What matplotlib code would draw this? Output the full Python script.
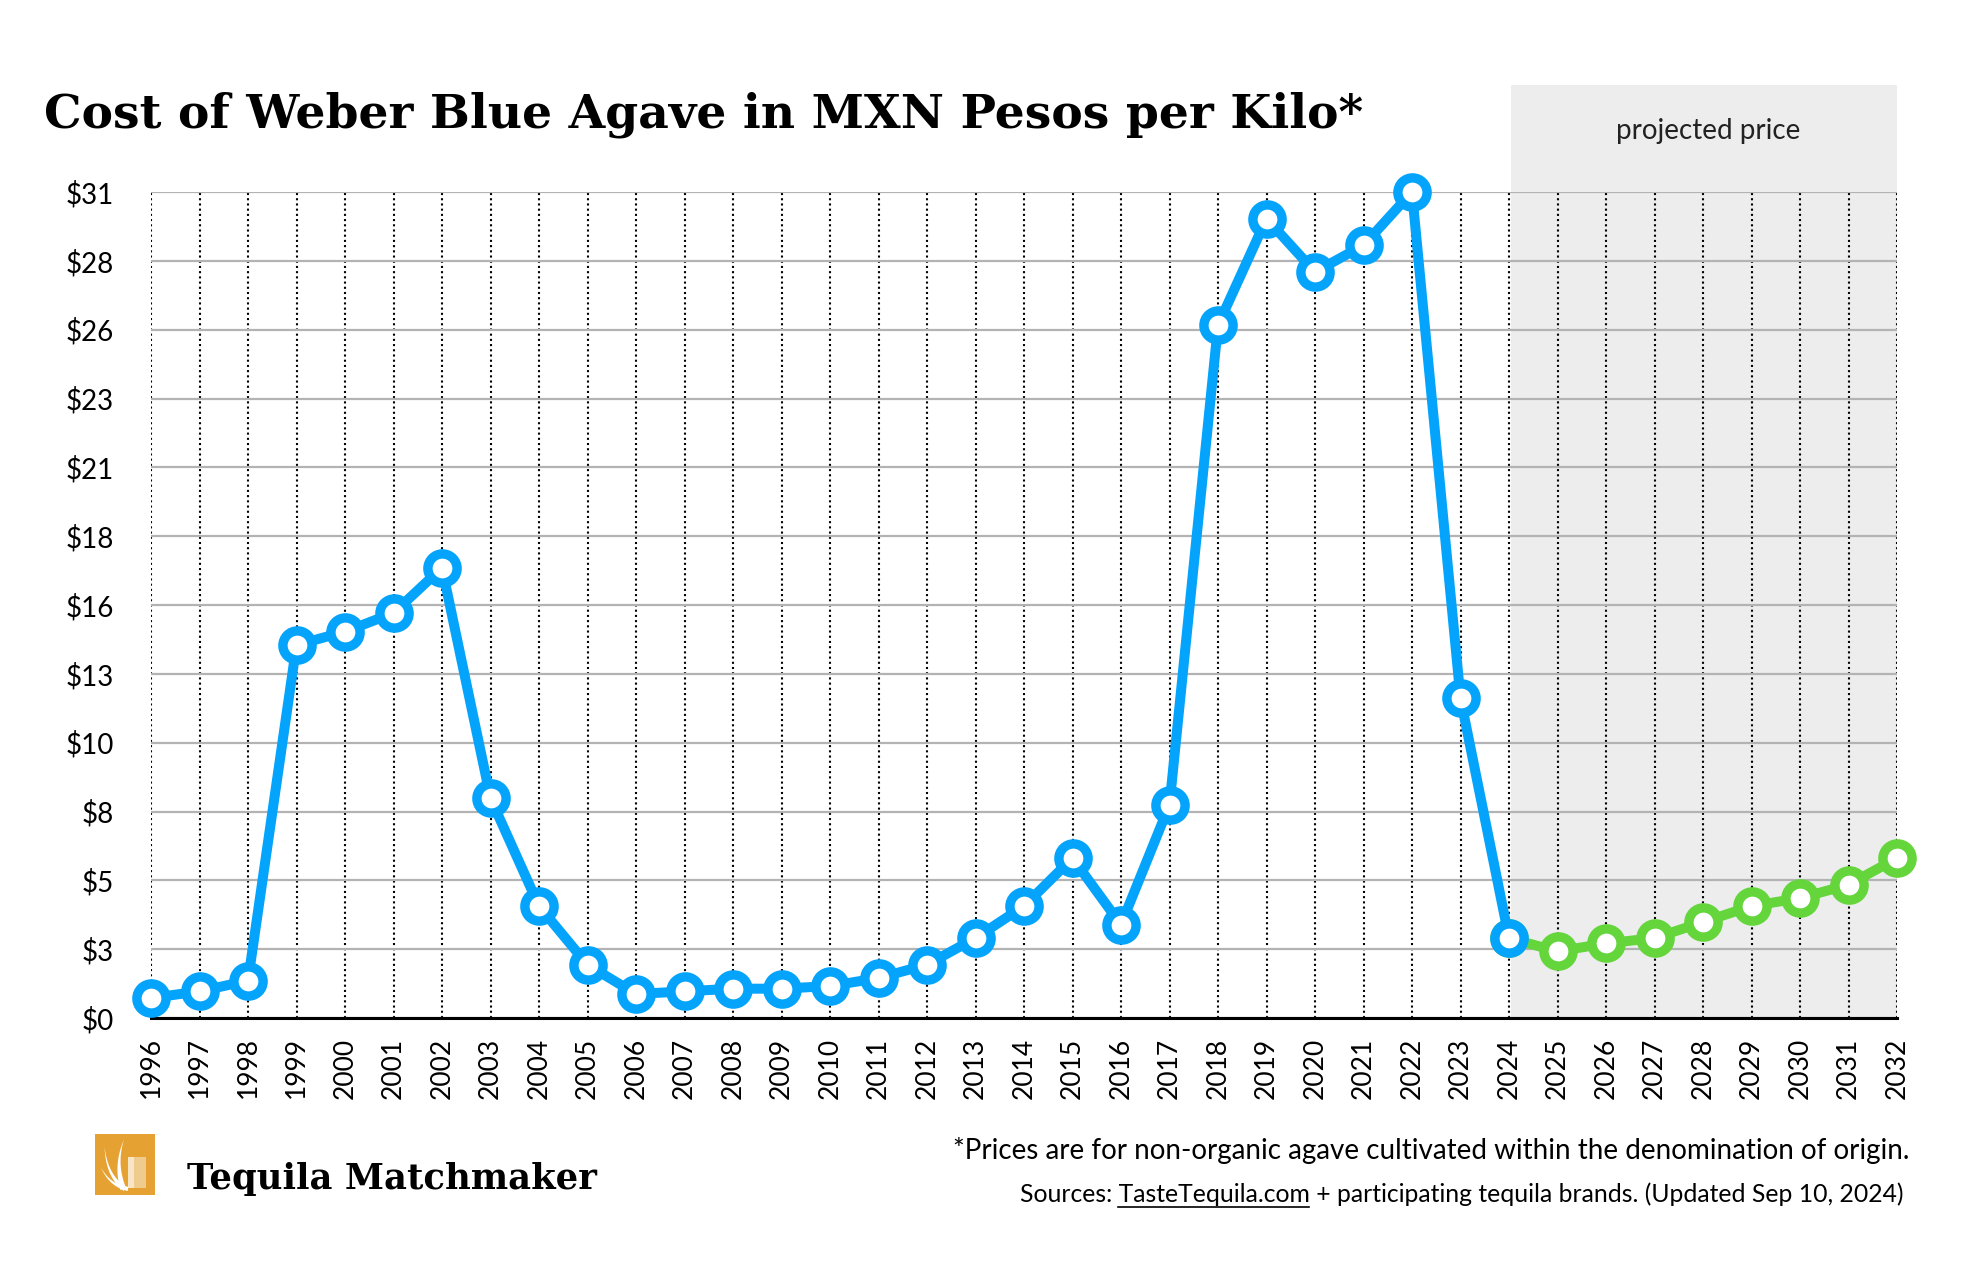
import numpy as np
import matplotlib.pyplot as plt
import matplotlib.transforms as mtransforms
from matplotlib.patches import Rectangle, Polygon

plt.rcParams['font.family'] = ['Lato', 'DejaVu Sans']

# Data
years_hist = list(range(1996, 2025))
price_hist = [0.75, 1.0, 1.4, 14.0, 14.5, 15.2, 16.9, 8.25, 4.2, 2.0,
              0.9, 1.0, 1.1, 1.1, 1.2, 1.5, 2.0, 3.0, 4.2, 6.0,
              3.5, 8.0, 26.0, 30.0, 28.0, 29.0, 31.0, 12.0, 3.0]
years_proj = list(range(2024, 2033))
price_proj = [3.0, 2.5, 2.8, 3.0, 3.6, 4.2, 4.5, 5.0, 6.0]
y_tick_labels = ["$0", "$3", "$5", "$8", "$10", "$13", "$16",
                 "$18", "$21", "$23", "$26", "$28", "$31"]
all_years = list(range(1996, 2033))

BLUE = '#05A4FC'
GREEN = '#64D63C'
W, H = 1978, 1284

fig = plt.figure(figsize=(W / 100, H / 100), dpi=100)
ax = fig.add_axes([151 / W, 1 - 1018 / H, (1897 - 151) / W, (1018 - 192) / H])

# projected region shading (extends above the plot)
trans = mtransforms.blended_transform_factory(ax.transData, ax.transAxes)
ax.add_patch(Rectangle((2024.05, 0), 2032 - 2024.05, 1 + (192 - 85) / 826,
                       transform=trans, facecolor='#EDEDED', edgecolor='none',
                       zorder=0.1, clip_on=False))
ax.text(2028.1, 1 + (192 - 131) / 826, "projected price", transform=trans,
        ha='center', va='center', fontsize=20, color='#222222')

# lines
ax.plot(years_proj, price_proj, color=GREEN, lw=7.2, marker='o', ms=21,
        mfc='white', mec=GREEN, mew=6.8, zorder=3, clip_on=False)
ax.plot(years_hist, price_hist, color=BLUE, lw=7.2, marker='o', ms=21,
        mfc='white', mec=BLUE, mew=6.8, zorder=4, clip_on=False)

ax.set_xlim(1996, 2032)
ax.set_ylim(0, 31)
ax.set_xticks(all_years)
ax.set_xticklabels([str(y) for y in all_years], rotation=90, fontsize=19)
ax.set_yticks(np.linspace(0, 31, len(y_tick_labels)))
ax.set_yticklabels(y_tick_labels, fontsize=20)
ax.tick_params(axis='x', length=0, pad=14)
ax.tick_params(axis='y', length=0, pad=27)

ax.set_axisbelow(True)
ax.grid(axis='x', color='black', lw=1.5, ls=(0, (1, 1.5)))
ax.grid(axis='y', color='#B3B3B3', lw=1.6, ls='-')
for s in ['top', 'left', 'right']:
    ax.spines[s].set_visible(False)
ax.spines['bottom'].set_linewidth(2.2)
ax.spines['bottom'].set_zorder(2)
ax.set_facecolor('none')

# title
fig.text(44 / W, 1 - 127 / H, "Cost of Weber Blue Agave in MXN Pesos per Kilo*",
         fontfamily='DejaVu Serif', fontweight='bold', fontsize=34,
         ha='left', va='baseline')

# footnotes
fig.text(1909 / W, 1 - 1159 / H,
         "*Prices are for non-organic agave cultivated within the denomination of origin.",
         ha='right', va='baseline', fontsize=20)
SRC_SIZE = 17.8
src = "Sources: TasteTequila.com + participating tequila brands. (Updated Sep 10, 2024)"
t_src = fig.text(1903 / W, 1 - 1202 / H, src, ha='right', va='baseline', fontsize=SRC_SIZE)

# underline the link
r = fig.canvas.get_renderer()
bb = t_src.get_window_extent(r)
tmp_a = fig.text(0, 0, "Sources: TasteTequila.com", fontsize=SRC_SIZE)
tmp_b = fig.text(0, 0, "TasteTequila.com", fontsize=SRC_SIZE)
wa = tmp_a.get_window_extent(r).width
wb = tmp_b.get_window_extent(r).width
tmp_a.remove()
tmp_b.remove()
ux1 = bb.x0 + wa
ux0 = ux1 - wb
uy = (1 - 1202 / H) * H - 5
fig.add_artist(plt.Line2D([ux0 / W, ux1 / W], [uy / H, uy / H],
                          transform=fig.transFigure, color='black', lw=1.2))

# logo
lax = fig.add_axes([95 / W, 1 - 1195 / H, 60 / W, 61 / H])
lax.set_xlim(0, 1)
lax.set_ylim(0, 1)
lax.axis('off')
lax.add_patch(Rectangle((0, 0), 1, 1, facecolor='#E5A232', edgecolor='none'))


def blade(p0, p1, p2, w):
    t = np.linspace(0, 1, 30)[:, None]
    p0, p1, p2 = np.array(p0), np.array(p1), np.array(p2)
    pts = (1 - t) ** 2 * p0 + 2 * (1 - t) * t * p1 + t ** 2 * p2
    d = 2 * (1 - t) * (p1 - p0) + 2 * t * (p2 - p1)
    n = np.column_stack([-d[:, 1], d[:, 0]])
    n = n / np.linalg.norm(n, axis=1)[:, None]
    half = (w * (1 - t[:, 0]) / 2)[:, None]
    poly = np.vstack([pts + n * half, (pts - n * half)[::-1]])
    lax.add_patch(Polygon(poly, facecolor='white', edgecolor='none'))


blade((0.47, 0.1), (0.33, 0.5), (0.48, 0.9), 0.1)
blade((0.5, 0.1), (0.2, 0.3), (0.16, 0.78), 0.08)
blade((0.55, 0.1), (0.25, 0.15), (0.1, 0.45), 0.07)
lax.add_patch(Rectangle((0.55, 0.12), 0.3, 0.5, facecolor='white', alpha=0.45,
                        edgecolor='none'))
lax.add_patch(Rectangle((0.55, 0.12), 0.1, 0.5, facecolor='white', alpha=0.5,
                        edgecolor='none'))

fig.text(187 / W, 1 - 1189 / H, "Tequila Matchmaker", fontfamily='DejaVu Serif',
         fontweight='bold', fontsize=25.5, ha='left', va='baseline')

fig.savefig('out.png', dpi=100)
